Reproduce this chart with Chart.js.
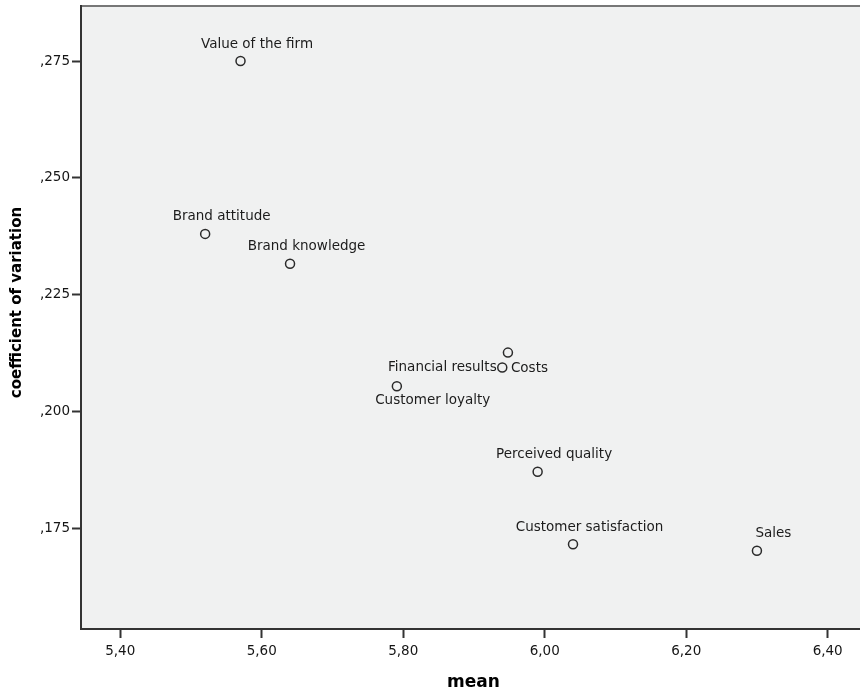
<!DOCTYPE html>
<html lang="en">
<head>
  <meta charset="UTF-8" />
  <title>Mean vs coefficient of variation</title>
  <script src="https://cdn.jsdelivr.net/npm/chart.js"></script>
  <style>
    html, body { margin: 0; padding: 0; background: #fff; }
    #wrap { width: 860px; height: 693px; }
  </style>
</head>
<body>
  <div id="wrap"><canvas id="cvChart" width="860" height="693"></canvas></div>

  <script>
    // data
    const itemNames = ["Value of the firm", "Brand attitude", "Brand knowledge", "Costs",
      "Financial results", "Customer loyalty", "Perceived quality", "Customer satisfaction", "Sales"];
    const meanValues = [5.570, 5.520, 5.640, 5.948, 5.940, 5.791, 5.990, 6.040, 6.300];
    const cvValues   = [0.2750, 0.2380, 0.2316, 0.2126, 0.2094, 0.2054, 0.1871, 0.1716, 0.1702];

    const xTickValues = [5.4, 5.6, 5.8, 6.0, 6.2, 6.4];
    const xTickLabels = ["5,40", "5,60", "5,80", "6,00", "6,20", "6,40"];
    const yTickValues = [0.175, 0.200, 0.225, 0.250, 0.275];
    const yTickLabels = [",175", ",200", ",225", ",250", ",275"];
    const xTitle = "mean";
    const yTitle = "coefficient of variation";

    // where each point label sits relative to its marker
    const labelPlacement = [
      { dx: 16.5, dy: -17, align: "center" },
      { dx: 16.5, dy: -17, align: "center" },
      { dx: 16.5, dy: -17, align: "center" },
      { dx: 3,    dy: 15.6, align: "left" },
      { dx: -5.6, dy: 0,   align: "right" },
      { dx: -21.7, dy: 14.7, align: "left" },
      { dx: 16.5, dy: -17, align: "center" },
      { dx: 16.5, dy: -17, align: "center" },
      { dx: 16.5, dy: -17, align: "center" }
    ];

    const plotFrame = {
      id: "plotFrame",
      beforeDraw(chart) {
        const { ctx, chartArea: a } = chart;
        ctx.save();
        ctx.fillStyle = "#f0f1f1";
        ctx.fillRect(a.left, a.top, a.right - a.left, a.bottom - a.top);
        ctx.strokeStyle = "#777";
        ctx.lineWidth = 2;
        ctx.beginPath();
        ctx.moveTo(a.left, a.top);
        ctx.lineTo(a.right, a.top);
        ctx.stroke();
        ctx.restore();
      }
    };

    const pointLabels = {
      id: "pointLabels",
      afterDatasetsDraw(chart) {
        const ctx = chart.ctx;
        const pts = chart.getDatasetMeta(0).data;
        ctx.save();
        ctx.font = "13.5px 'DejaVu Sans'";
        ctx.fillStyle = "#1c1c1c";
        ctx.textBaseline = "middle";
        pts.forEach((p, i) => {
          const lp = labelPlacement[i];
          ctx.textAlign = lp.align;
          ctx.fillText(itemNames[i], p.x + lp.dx, p.y + lp.dy);
        });
        ctx.restore();
      }
    };

    const axisTitles = {
      id: "axisTitles",
      afterDraw(chart) {
        const ctx = chart.ctx;
        const a = chart.chartArea;
        ctx.save();
        ctx.fillStyle = "#000";
        ctx.textAlign = "center";
        ctx.textBaseline = "middle";
        ctx.font = "bold 17px 'DejaVu Sans'";
        ctx.fillText(xTitle, (a.left + a.right) / 2 + 3, 682.5);
        ctx.translate(17.5, (a.top + a.bottom) / 2 - 15);
        ctx.rotate(-Math.PI / 2);
        ctx.font = "bold 15px 'DejaVu Sans'";
        ctx.fillText(yTitle, 0, 0);
        ctx.restore();
      }
    };

    // fixed axis boxes so the plot area lands where the original has it
    function noPadding(s) {
      s.paddingTop = 0; s.paddingBottom = 0; s.paddingLeft = 0; s.paddingRight = 0;
    }

    const tickFont = { family: "DejaVu Sans", size: 13.5 };

    new Chart(document.getElementById("cvChart"), {
      type: "scatter",
      data: {
        datasets: [{
          data: meanValues.map((m, i) => ({ x: m, y: cvValues[i] })),
          pointRadius: 4.5,
          pointBorderWidth: 1.5,
          pointBorderColor: "#2a2a2a",
          pointBackgroundColor: "rgba(0,0,0,0)",
          clip: false
        }]
      },
      options: {
        responsive: false,
        animation: false,
        layout: { autoPadding: false, padding: { top: 6, left: 0, right: 0, bottom: 0 } },
        plugins: {
          legend: { display: false },
          tooltip: { enabled: false }
        },
        scales: {
          x: {
            type: "linear",
            min: 5.3445,
            max: 6.4457,
            bounds: "data",
            afterBuildTicks: s => { s.ticks = xTickValues.map(v => ({ value: v })); },
            afterFit: s => { s.height = 64; noPadding(s); },
            grid: { drawOnChartArea: false, drawTicks: true, tickLength: 9, tickWidth: 2, tickColor: "#333" },
            border: { display: true, color: "#333", width: 2 },
            ticks: {
              padding: 5,
              color: "#151515",
              font: tickFont,
              maxRotation: 0,
              autoSkip: false,
              callback: (v, i) => xTickLabels[i]
            }
          },
          y: {
            type: "linear",
            min: 0.15345,
            max: 0.28677,
            bounds: "data",
            afterBuildTicks: s => { s.ticks = yTickValues.map(v => ({ value: v })); },
            afterFit: s => { s.width = 81; noPadding(s); },
            grid: { drawOnChartArea: false, drawTicks: true, tickLength: 9, tickWidth: 2, tickColor: "#333" },
            border: { display: true, color: "#333", width: 2 },
            ticks: {
              padding: 2,
              color: "#151515",
              font: tickFont,
              autoSkip: false,
              callback: (v, i) => yTickLabels[i]
            }
          }
        }
      },
      plugins: [plotFrame, pointLabels, axisTitles]
    });
  </script>
</body>
</html>
